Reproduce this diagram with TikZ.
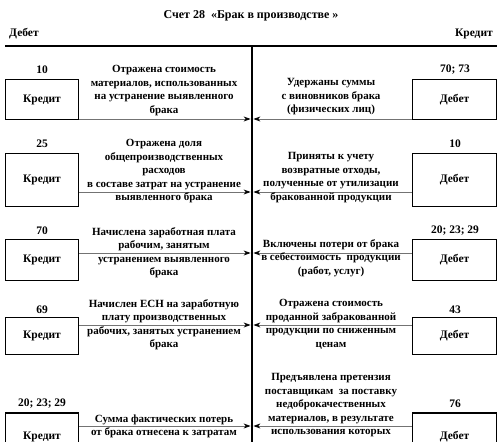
\documentclass[tikz,border=0pt]{standalone}
\usepackage{fontspec}
\setmainfont{Liberation Serif}
\usetikzlibrary{arrows.meta}
\begin{document}
\begin{tikzpicture}[x=1pt,y=-1pt,
  font=\bfseries\fontsize{11}{13.5}\selectfont,
  acctL/.style={draw, line width=1.8pt, inner sep=0pt, minimum width=73pt, font=\bfseries\fontsize{11.5}{13.5}\selectfont},
  acctR/.style={draw, line width=1.8pt, inner sep=0pt, minimum width=84pt, font=\bfseries\fontsize{11.5}{13.5}\selectfont},
  num/.style={inner sep=0pt, anchor=center, font=\bfseries\fontsize{11.5}{13.5}\selectfont},
  lbl/.style={align=center, anchor=north, inner sep=0pt},
  flow/.style={draw=gray!90!black, line width=0.8pt, -{Stealth[black,length=7pt,width=5pt]}}]
\useasboundingbox (0,0) rectangle (502,441);
\clip (0,0) rectangle (502,441);

% header
\node[inner sep=0pt, font=\bfseries\fontsize{12}{14}\selectfont] (title) at (251,16) {Счет 28\ \ «Брак в производстве »};
\node[inner sep=0pt, anchor=west, font=\bfseries\fontsize{11.5}{13}\selectfont] (deb) at (9,34) {Дебет};
\node[inner sep=0pt, anchor=east, font=\bfseries\fontsize{11.5}{13}\selectfont] (kred) at (493,34) {Кредит};
\coordinate (hl) at (5,46);
\coordinate (hr) at (497,46);
\coordinate (vt) at (252,46);
\coordinate (vb) at (252,460);
\draw[line width=2pt] (hl) -- (hr);
\draw[line width=2.4pt] (vt) -- (vb);

% boxes
\node[acctL, minimum height=40pt] (k1) at (42,99.5) {Кредит};
\node[acctR, minimum height=40pt] (d1) at (454.5,99.5) {Дебет};
\node[acctL, minimum height=53pt] (k2) at (42,180) {Кредит};
\node[acctR, minimum height=53pt] (d2) at (454.5,180) {Дебет};
\node[acctL, minimum height=41pt] (k3) at (42,260) {Кредит};
\node[acctR, minimum height=41pt] (d3) at (454.5,260) {Дебет};
\node[acctL, minimum height=37pt] (k4) at (42,336) {Кредит};
\node[acctR, minimum height=37pt] (d4) at (454.5,336) {Дебет};
\node[acctL, minimum height=48pt] (k5) at (42,437) {Кредит};
\node[acctR, minimum height=48pt] (d5) at (454.5,437) {Дебет};

% numbers
\node[num] (n1l) at (42,70) {10};
\node[num] (n1r) at (455,70) {70; 73};
\node[num] (n2l) at (42,144) {25};
\node[num] (n2r) at (455,144) {10};
\node[num] (n3l) at (42,231) {70};
\node[num] (n3r) at (455,231) {20; 23; 29};
\node[num] (n4l) at (42,310) {69};
\node[num] (n4r) at (455,310) {43};
\node[num] (n5l) at (42,404) {20; 23; 29};
\node[num] (n5r) at (455,404) {76};

% arrows
\coordinate (a1l) at (250.6,119); \coordinate (a1r) at (253.4,119);
\coordinate (a2l) at (250.6,192); \coordinate (a2r) at (253.4,192);
\coordinate (a3l) at (250.6,253); \coordinate (a3r) at (253.4,253);
\coordinate (a4l) at (250.6,325); \coordinate (a4r) at (253.4,325);
\coordinate (a5l) at (250.6,426); \coordinate (a5r) at (253.4,426);
\draw[flow] (k1.east |- a1l) -- (a1l);
\draw[flow] (d1.west |- a1r) -- (a1r);
\draw[flow] (k2.east |- a2l) -- (a2l);
\draw[flow] (d2.west |- a2r) -- (a2r);
\draw[flow] (k3.east |- a3l) -- (a3l);
\draw[flow] (d3.west |- a3r) -- (a3r);
\draw[flow] (k4.east |- a4l) -- (a4l);
\draw[flow] (d4.west |- a4r) -- (a4r);
\draw[flow] (k5.east |- a5l) -- (a5l);
\draw[flow] (d5.west |- a5r) -- (a5r);

% labels
\node[lbl] (t1l) at (164,65.3) {Отражена стоимость\\материалов, использованных\\на устранение выявленного\\брака};
\node[lbl] (t1r) at (331,78.3) {Удержаны суммы\\с виновников брака\\(физических лиц)};
\node[lbl] (t2l) at (164,139.3) {Отражена доля\\общепроизводственных\\расходов\\в составе затрат на устранение\\выявленного брака};
\node[lbl] (t2r) at (331,152.3) {Приняты к учету\\возвратные отходы,\\полученные от утилизации\\бракованной продукции};
\node[lbl] (t3l) at (164,227.3) {Начислена заработная плата\\рабочим, занятым\\устранением выявленного\\брака};
\node[lbl] (t3r) at (331,239.3) {Включены потери от брака\\в себестоимость\ \ продукции\\(работ, услуг)};
\node[lbl] (t4l) at (164,299.3) {Начислен ЕСН на заработную\\плату производственных\\рабочих, занятых устранением\\брака};
\node[lbl] (t4r) at (331,299.3) {Отражена стоимость\\проданной забракованной\\продукции по сниженным\\ценам};
\node[lbl] (t5l) at (164,414.3) {Сумма фактических потерь\\от брака отнесена к затратам};
\node[lbl] (t5r) at (331,373.3) {Предъявлена претензия\\поставщикам\ \ за поставку\\недоброкачественных\\материалов, в результате\\использования которых};
\end{tikzpicture}
\end{document}
